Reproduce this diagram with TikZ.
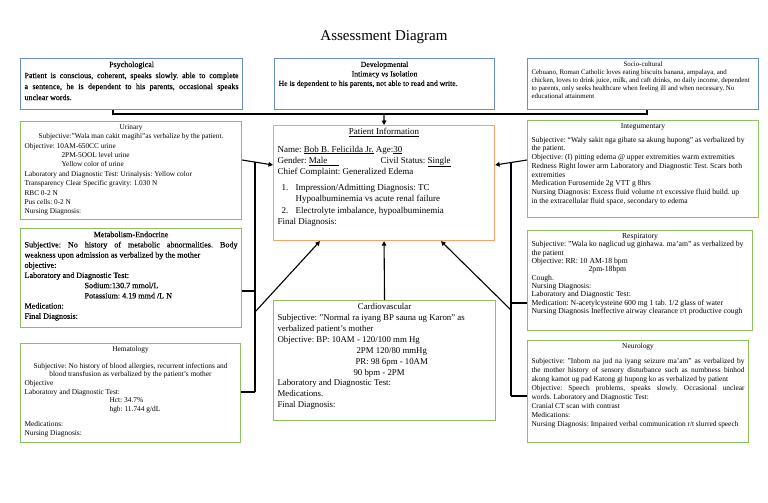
\documentclass[tikz,border=0pt]{standalone}
\usepackage{fontspec}
\setmainfont{Liberation Serif}
\newfontfamily\hv[FakeBold=0.25]{Liberation Serif}
\usetikzlibrary{arrows.meta,calc}
\definecolor{bblue}{HTML}{6A8CD6}
\definecolor{bgreen}{HTML}{8CC15F}
\definecolor{borange}{HTML}{F3A36B}
\newcommand{\bt}[3]{\parbox[t][#2][t]{#1}{\raggedright\frenchspacing #3}}
\newcommand{\ttl}[1]{{\centering #1\par}}
\newcommand{\jl}[1]{\par\hbox to\linewidth{#1}}
\tikzset{
  bx/.style={draw, line width=1.1pt, anchor=north west, inner xsep=4pt, inner ysep=3pt, fill=white},
  conn/.style={line width=1.1pt, black},
  arr/.style={conn, -{Triangle[length=4.5pt,width=4.5pt]}}
}
\begin{document}
\begin{tikzpicture}[x=1pt,y=-1pt]
\fill[white] (0,0) rectangle (768,503);
\useasboundingbox (0,0) rectangle (768,503);

\node (title) at (384,37) {\fontsize{15}{18}\selectfont Assessment Diagram};

\node[bx, draw=bblue] (psych) at (20,58) {\bt{214pt}{45pt}{\hv\fontsize{8}{11}\selectfont
\ttl{Psychological}
\jl{Patient is conscious, coherent, speaks slowly. able to complete}
\jl{a sentence, he is dependent to his parents, occasional speaks}
\par unclear words.}};

\node[bx, draw=bblue] (dev) at (274,58) {\bt{212pt}{45pt}{\hv\fontsize{7.8}{9.5}\selectfont
\ttl{Developmental}
\ttl{Intimacy vs Isolation}
He is dependent to his parents, not able to read and write.}};

\node[bx, draw=bblue] (socio) at (527,58) {\bt{223pt}{45pt}{\fontsize{6.9}{8}\selectfont
\ttl{Socio-cultural}
Cebuano, Roman Catholic loves eating biscuits banana, ampalaya, and\\
chicken, loves to drink juice, milk, and caft drinks, no daily income, dependent\\
to parents, only seeks healthcare when feeling ill and when necessary. No\\
educational attainment}};

\node[bx, draw=bgreen] (urinary) at (20,121) {\bt{213pt}{92pt}{\fontsize{7.3}{9.4}\selectfont
\ttl{Urinary}
\ttl{Subjective:”Wala man cakit magihi”as verbalize by the patient.}
Objective: 10AM-650CC urine\\
\hspace*{37pt}2PM-5OOL level urine\\
\hspace*{37pt}Yellow color of urine\\
Laboratory and Diagnostic Test: Urinalysis: Yellow color\\
Transparency Clear Specific gravity: 1.030 N\\
RBC 0-2 N\\
Pus cells: 0-2 N\\
Nursing Diagnosis:}};

\node[bx, draw=bgreen] (metab) at (20,228) {\bt{213pt}{93pt}{\hv\fontsize{8.1}{10.2}\selectfont
\ttl{Metabolism-Endocrine}
\jl{Subjective: No history of metabolic abnormalities. Body}
\par weakness upon admission as verbalized by the mother\\
objective:\\
Laboratory and Diagnostic Test:\\
\hspace*{60pt}Sodium:130.7 mmol/L\\
\hspace*{60pt}Potassium: 4.19 mmd /L N\\
Medication:\\
Final Diagnosis:}};

\node[bx, draw=bgreen] (hemat) at (20,343) {\bt{212pt}{93pt}{\fontsize{7.4}{8.6}\selectfont
\ttl{Hematology}\vspace{8pt}
\ttl{Subjective: No history of blood allergies, recurrent infections and\\ blood transfusion as verbalized by the patient's mother}
Objective\\
Laboratory and Diagnostic Test:\\
\hspace*{85pt}Hct: 34.7\%\\
\hspace*{85pt}hgb: 11.744 g/dL\\[7pt]
Medications:\\
Nursing Diagnosis:}};

\node[bx, draw=borange] (pinfo) at (273,125) {\bt{213pt}{109pt}{\fontsize{9}{11.2}\selectfont
\ttl{\underline{Patient Information}}\vspace{6pt}
Name: \underline{Bob B. Felicilda Jr.} Age:\underline{30}\\
\makebox[103pt][l]{Gender: \underline{Male\hspace{1.3em}}}Civil Status: \underline{Single}\\
Chief Complaint: Generalized Edema\par\vspace{5pt}
\makebox[18pt][l]{\hspace{4pt}1.}Impression/Admitting Diagnosis: TC\\
\hspace*{18pt}Hypoalbuminemia vs acute renal failure\\
\makebox[18pt][l]{\hspace{4pt}2.}Electrolyte imbalance, hypoalbuminemia\\
Final Diagnosis:}};

\node[bx, draw=bgreen] (cardio) at (273,300) {\bt{214pt}{114pt}{\fontsize{8.8}{10.9}\selectfont
\ttl{Cardiovascular}
Subjective: "Normal ra iyang BP sauna ug Karon" as\\
verbalized patient's mother\\
Objective: BP: 10AM - 120/100 mm Hg\\
\hspace*{79pt}2PM 120/80 mmHg\\
\hspace*{78pt}PR: 98 6pm - 10AM\\
\hspace*{76pt}90 bpm - 2PM\\
Laboratory and Diagnostic Test:\\
Medications.\\
Final Diagnosis:}};

\node[bx, draw=bgreen] (integ) at (527,120) {\bt{223pt}{91pt}{\fontsize{7.6}{8.7}\selectfont
\ttl{Integumentary}\vspace{5pt}
Subjective: “Waly sakit nga gibate sa akung hupong” as verbalized by\\
the patient.\\
Objective: (I) pitting edema @ upper extremities warm extremities\\
Redness Right lower arm Laboratory and Diagnostic Test. Scars both\\
extremities\\
Medication Furosemide 2g VTT g 8hrs\\
Nursing Diagnosis: Excess fluid volume r/t excessive fluid build. up\\
in the extracellular fluid space, secondary to edema}};

\node[bx, draw=bgreen] (resp) at (527,230) {\bt{217pt}{94pt}{\fontsize{7.7}{8.3}\selectfont
\ttl{Respiratory}
Subjective: "Wala ko naglicud ug ginhawa. ma'am" as verbalized by\\
the patient\\
Objective: RR: 10 AM-18 bpm\\
\hspace*{57pt}2pm-18bpm\\
Cough.\\
Nursing Diagnosis:\\
Laboratory and Diagnostic Test:\\
Medication: N-acetylcysteine 600 mg 1 tab. 1/2 glass of water\\
Nursing Diagnosis Ineffective airway clearance r/t productive cough}};

\node[bx, draw=bgreen] (neuro) at (527,340) {\bt{213pt}{96pt}{\fontsize{7.4}{9}\selectfont
\ttl{Neurology}\vspace{6pt}
\jl{Subjective: "Inbom na jud na iyang seizure ma'am" as verbalized by}
\jl{the mother history of sensory disturbance such as numbness binhod}
\par akong kamot ug pad Katong gi hupong ko as verbalized by patient
\jl{Objective: Speech problems, speaks slowly. Occasional unclear}
\par words. Laboratory and Diagnostic Test:\\
Cranial CT scan with contrast\\
Medications:\\
Nursing Diagnosis: Impaired verbal communication r/t slurred speech}};

% junction coordinates
\coordinate (tj) at (384,114);
\coordinate (lv1) at (255,162);
\coordinate (lv2) at (255,392);
\coordinate (lvd) at (255,312);
\coordinate (rv1) at (511,163);
\coordinate (rv2) at (511,396);
\coordinate (rvd) at (511,310);

% top connectors
\draw[conn] (psych.south -| 113,0) -- (113,114) -- (647,114) -- (socio.south -| 647,0);
\draw[arr] (tj) -- (pinfo.north);

% left side
\draw[arr] (urinary.east |- 0,160) -- (pinfo.west |- 0,165);
\draw[conn] (lv1) -- (lv2);
\draw[conn] (metab.east |- 0,291) -- (lv1 |- 0,291);
\draw[conn] (hemat.east |- lv2) -- (lv2);
\draw[arr] (lvd) -- (pinfo.south -| 320,0);

% middle
\draw[arr] (cardio.north) -- (pinfo.south);

% right side
\draw[arr] (integ.west |- 0,160) -- (pinfo.east |- 0,165);
\draw[conn] (rv1) -- (rv2);
\draw[conn] (resp.west |- 0,303) -- (rv1 |- 0,303);
\draw[conn] (neuro.west |- rv2) -- (rv2);
\draw[arr] (rvd) -- (pinfo.south -| 441,0);
\end{tikzpicture}
\end{document}
